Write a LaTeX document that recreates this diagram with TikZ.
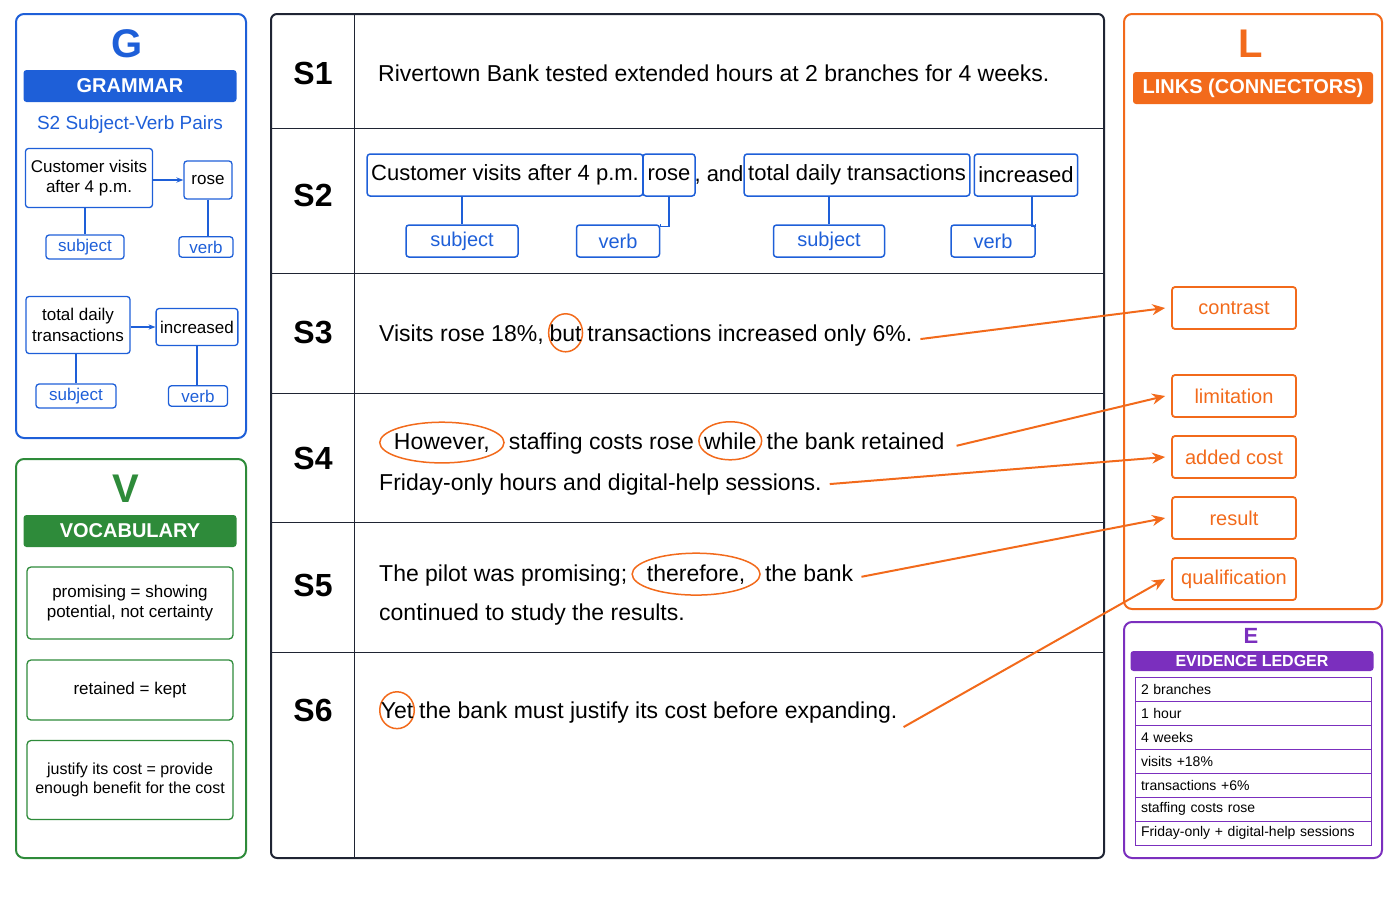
\documentclass[tikz,border=0pt]{standalone}
\usepackage{fontspec}
\setmainfont{Liberation Sans}
\usetikzlibrary{arrows.meta, positioning, shapes.geometric}
\definecolor{gblue}{HTML}{1E5FD8}
\definecolor{vgreen}{HTML}{2E8B3A}
\definecolor{lorange}{HTML}{F26A1B}
\definecolor{epurple}{HTML}{7B2FBE}
\definecolor{tline}{HTML}{1F2433}
\newcommand{\fs}[1]{\fontsize{#1pt}{1.2\dimexpr #1pt\relax}\selectfont}
\tikzset{
  panel/.style={draw, line width=2pt, rounded corners=8pt},
  letter/.style={font=\fs{40}\bfseries},
  bar/.style={rounded corners=3pt, text=white, font=\fs{20}\bfseries, minimum height=32pt, inner sep=0pt},
  gbox/.style={draw=gblue, line width=1.3pt, rounded corners=3pt, align=center, font=\fs{17}, inner sep=4pt},
  wbox/.style={draw=gblue, line width=1.5pt, rounded corners=3pt, font=\fs{22}, minimum height=42pt, inner sep=4pt},
  lbl/.style={draw=gblue, line width=1.5pt, rounded corners=3pt, font=\fs{20}, text=gblue, minimum height=32pt},
  vbox/.style={draw=vgreen, line width=1.3pt, rounded corners=4pt, align=center, font=\fs{17}, minimum width=206pt},
  link/.style={draw=lorange, line width=1.8pt, rounded corners=3pt, text=lorange, font=\fs{20}, minimum width=124pt, minimum height=42pt},
  txt/.style={font=\fs{23}, inner sep=0pt, anchor=base west},
  circ/.style={txt, draw=lorange, line width=1.5pt, ellipse, inner xsep=-4pt, inner ysep=5pt},
  sno/.style={font=\fs{32}\bfseries},
  conn/.style={gblue, line width=1.3pt},
  larrow/.style={lorange, line width=2pt, -{Stealth[length=13pt, width=11pt]}},
  erow/.style={draw=epurple, line width=1pt, font=\fs{14}, minimum width=236pt, minimum height=24pt, text width=224pt, inner sep=0pt}
}
\begin{document}
\begin{tikzpicture}[x=1pt, y=-1pt]
  \useasboundingbox (0,0) rectangle (1400,900);

  % Grammar panel
  \draw [panel, gblue] (16,14) rectangle (246,438);
  \node (gl) [letter, text=gblue] at (127,44) {G};
  \node (gbar) [bar, fill=gblue, minimum width=213pt] at (130,86) {GRAMMAR};
  \node (gsub) [text=gblue, font=\fs{19}] at (130,125) {S2 Subject-Verb Pairs};
  \node (cv) [gbox, minimum width=127pt, minimum height=59pt] at (89,178) {Customer visits\\after 4 p.m.};
  \node (rs) [gbox, minimum width=48pt, minimum height=38pt] at (208,180) {rose};
  \node (cvs) [gbox, text=gblue, minimum width=78pt] at (85,247) {subject};
  \node (rsv) [gbox, text=gblue, minimum width=54pt] at (206,247) {verb};
  \node (td) [gbox, minimum width=104pt, minimum height=57pt] at (78,325) {total daily\\transactions};
  \node (inc) [gbox, minimum width=77pt, minimum height=37pt] at (197,327) {increased};
  \node (tds) [gbox, text=gblue, minimum width=80pt] at (76,396) {subject};
  \node (incv) [gbox, text=gblue, minimum width=59pt] at (198,396) {verb};
  \draw [conn, -{Stealth[length=7pt]}] (cv.east |- rs) -- (rs.west);
  \draw [conn, -{Stealth[length=7pt]}] (td.east |- inc) -- (inc.west);
  \draw [conn] (cv.south -| cvs) -- (cvs.north);
  \draw [conn] (rs.south) -- (rsv.north -| rs);
  \draw [conn] (td.south -| tds) -- (tds.north);
  \draw [conn] (inc.south) -- (incv.north -| inc);

  % Vocabulary panel
  \draw [panel, vgreen] (16,459) rectangle (246,858);
  \node (vl) [letter, text=vgreen] at (126,489) {V};
  \node (vbar) [bar, fill=vgreen, minimum width=213pt] at (130,531) {VOCABULARY};
  \node (v1) [vbox, minimum height=72pt] at (130,603) {promising = showing\\potential, not certainty};
  \node (v2) [vbox, minimum height=60pt] at (130,690) {retained = kept};
  \node (v3) [vbox, minimum height=79pt, font=\fs{16}] at (130,780) {justify its cost = provide\\enough benefit for the cost};

  % Sentence table
  \draw [line width=2pt, tline, rounded corners=6pt] (271,14) rectangle (1104,858);
  \draw [line width=1pt, tline] (354,14) -- (354,858);
  \foreach \y in {128,273,393,522,652}
    \draw [line width=1pt, tline] (271,\y) -- (1104,\y);
  \foreach \n/\y in {1/73,2/195,3/333,4/458,5/585,6/710}
    \node (s\n) [sno] at (313,\y) {S\n};

  % S1
  \node (s1t) [txt] at (378,81) {Rivertown Bank tested extended hours at 2 branches for 4 weeks.};

  % S2
  \node (w1) [wbox, minimum width=264pt] at (505,175) {Customer visits after 4 p.m.};
  \node (w2) [wbox, minimum width=52pt] at (669,175) {rose};
  \node (wand) [font=\fs{22}, inner sep=0pt] at (719,175) {, and};
  \node (w3) [wbox, minimum width=223pt] at (857,175) {total daily transactions};
  \node (w4) [wbox, minimum width=101pt] at (1026,175) {increased};
  \node (l1) [lbl, minimum width=112pt] at (462,241) {subject};
  \node (l2) [lbl, minimum width=83pt] at (618,241) {verb};
  \node (l3) [lbl, minimum width=111pt] at (829,241) {subject};
  \node (l4) [lbl, minimum width=84pt] at (993,241) {verb};
  \draw [conn] (w1.south -| l1) -- (l1.north);
  \draw [conn] (w2.south) -- ++(0,30) -| (l2.north east);
  \draw [conn] (w3.south -| l3) -- (l3.north);
  \draw [conn] (w4.south -| 1032,0) -- ++(0,30) -| (l4.north east);

  % S3
  \node (s3a) [txt] at (379,341) {Visits rose 18\%,};
  \node (but) [circ, xshift=4pt] at (s3a.base east) {but};
  \node (s3b) [txt, xshift=4pt] at (but.base east) {transactions increased only 6\%.};

  % S4
  \node (how) [circ] at (379,449) {However,};
  \node (s4a) [txt, xshift=4pt] at (how.base east) {staffing costs rose};
  \node (whl) [circ, xshift=4pt] at (s4a.base east) {while};
  \node (s4b) [txt, xshift=4pt] at (whl.base east) {the bank retained};
  \node (s4c) [txt] at (379,490) {Friday-only hours and digital-help sessions.};

  % S5
  \node (s5a) [txt] at (379,581) {The pilot was promising;};
  \node (thf) [circ, xshift=4pt] at (s5a.base east) {therefore,};
  \node (s5b) [txt, xshift=4pt] at (thf.base east) {the bank};
  \node (s5c) [txt] at (379,620) {continued to study the results.};

  % S6
  \node (yet) [circ] at (379,718) {Yet};
  \node (s6a) [txt, xshift=4pt] at (yet.base east) {the bank must justify its cost before expanding.};

  % Links panel
  \draw [panel, lorange] (1124,14) rectangle (1382,609);
  \node (ll) [letter, text=lorange] at (1251,44) {L};
  \node (lbar) [bar, fill=lorange, minimum width=240pt] at (1253,88) {LINKS (CONNECTORS)};
  \node (k1) [link] at (1234,308) {contrast};
  \node (k2) [link] at (1234,396) {limitation};
  \node (k3) [link] at (1234,457) {added cost};
  \node (k4) [link] at (1234,518) {result};
  \node (k5) [link] at (1234,579) {qualification};

  % Arrows
  \draw [larrow] ([xshift=8pt, yshift=-4pt]s3b.east) -- ([xshift=-6pt]k1.west);
  \draw [larrow] ([xshift=12pt, yshift=-5pt]s4b.east) -- ([xshift=-6pt]k2.west);
  \draw [larrow] ([xshift=8pt]s4c.east) -- ([xshift=-6pt]k3.west);
  \draw [larrow] ([xshift=8pt, yshift=-4pt]s5b.east) -- ([xshift=-6pt]k4.west);
  \draw [larrow] ([xshift=6pt, yshift=-15pt]s6a.east) -- ([xshift=-6pt]k5.west);

  % Evidence ledger
  \draw [panel, epurple] (1124,622) rectangle (1382,858);
  \node (el) [text=epurple, font=\fs{22}\bfseries] at (1251,636) {E};
  \node (ebar) [bar, fill=epurple, minimum width=243pt, minimum height=20pt, font=\fs{16}\bfseries] at (1252,661) {EVIDENCE LEDGER};
  \foreach \t [count=\i] in {2 branches, 1 hour, 4 weeks, visits +18\%, transactions +6\%, staffing costs rose, Friday-only + digital-help sessions}
    \node (e\i) [erow] at (1253,677+24*\i-12) {\t};
\end{tikzpicture}
\end{document}
